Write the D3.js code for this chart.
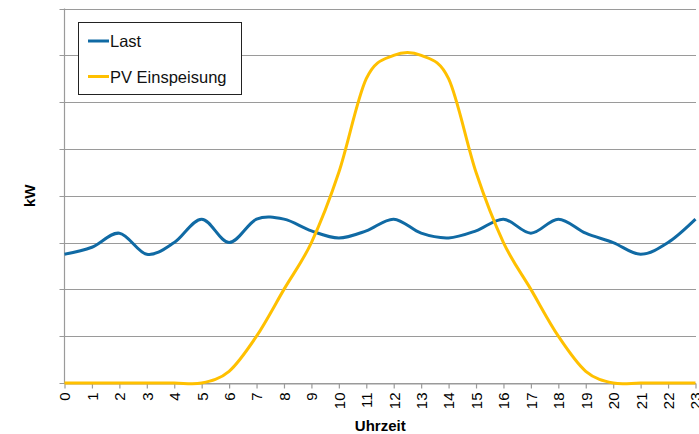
<!DOCTYPE html>
<html>
<head>
<meta charset="utf-8">
<script src="https://cdn.jsdelivr.net/npm/d3@7"></script>
<style>
  html, body { margin: 0; padding: 0; background: #fff; }
  svg { display: block; font-family: "Liberation Sans", Arial, sans-serif; }
</style>
</head>
<body>
<svg id="chart" width="699" height="434"></svg>
<script>
// Hourly profile: load vs. PV feed-in (kW)
const hours = d3.range(0, 24);
const hourLabels = hours.map(String);
const last = [2.75, 2.9, 3.2, 2.75, 3.0, 3.5, 3.0, 3.5, 3.5, 3.25, 3.1, 3.25,
              3.5, 3.2, 3.1, 3.25, 3.5, 3.2, 3.5, 3.2, 3.0, 2.75, 3.0, 3.5];
const pv = [0, 0, 0, 0, 0, 0, 0.25, 1, 2, 3, 4.5, 6.5,
            7, 7, 6.5, 4.5, 3, 2, 1, 0.25, 0, 0, 0, 0];
const seriesNames = ["Last", "PV Einspeisung"];
const seriesColors = ["#106aa4", "#ffc000"];
const yTicks = d3.range(0, 9);

const svg = d3.select("#chart");
const plotLeft = 64.5, plotRight = 696, plotTop = 8.5, plotBottom = 383;

const x = d3.scaleLinear().domain([0, 23]).range([plotLeft, plotRight - 0.5]);
const y = d3.scaleLinear().domain([0, 8]).range([plotBottom, plotTop]);

// horizontal gridlines with small outer ticks
svg.append("g")
  .selectAll("line")
  .data(yTicks)
  .join("line")
  .attr("x1", plotLeft - 5)
  .attr("x2", plotRight)
  .attr("y1", d => Math.round(y(d)) + 0.5)
  .attr("y2", d => Math.round(y(d)) + 0.5)
  .attr("stroke", "#9a9a9a")
  .attr("stroke-width", 1.2);

// vertical axis line
svg.append("line")
  .attr("x1", plotLeft).attr("x2", plotLeft)
  .attr("y1", plotTop).attr("y2", plotBottom)
  .attr("stroke", "#9a9a9a").attr("stroke-width", 1.2);

// x axis ticks and rotated hour labels
const xAxis = d3.axisBottom(x)
  .tickValues(hours)
  .tickFormat((d, i) => hourLabels[i])
  .tickSize(5)
  .tickSizeOuter(0);
const gx = svg.append("g")
  .attr("transform", `translate(0,${Math.round(plotBottom) + 0.5})`)
  .call(xAxis);
gx.select(".domain").attr("stroke", "#9a9a9a").attr("stroke-width", 1.2);
gx.selectAll(".tick line").attr("stroke", "#9a9a9a").attr("stroke-width", 1.2);
gx.selectAll(".tick text")
  .attr("font-family", "Liberation Sans, Arial, sans-serif")
  .attr("font-size", 15)
  .attr("fill", "#000")
  .attr("text-anchor", "end")
  .attr("transform", "rotate(-90)")
  .attr("x", -9)
  .attr("y", 0)
  .attr("dy", "0.36em");

// series lines
const line = d3.line()
  .x((d, i) => x(hours[i]))
  .y(d => y(d))
  .curve(d3.curveCardinal.tension(0));

[last, pv].forEach((vals, k) => {
  svg.append("path")
    .datum(vals)
    .attr("fill", "none")
    .attr("stroke", seriesColors[k])
    .attr("stroke-width", 3)
    .attr("stroke-linejoin", "round")
    .attr("d", line);
});

// axis titles
svg.append("text")
  .attr("transform", `translate(35,${(plotTop + plotBottom) / 2}) rotate(-90)`)
  .attr("text-anchor", "middle")
  .attr("font-weight", "bold")
  .attr("font-size", 15)
  .text("kW");

svg.append("text")
  .attr("x", (plotLeft + plotRight) / 2)
  .attr("y", 431)
  .attr("text-anchor", "middle")
  .attr("font-weight", "bold")
  .attr("font-size", 15)
  .text("Uhrzeit");

// legend
const legend = svg.append("g");
legend.append("rect")
  .attr("x", 78.5).attr("y", 22.5)
  .attr("width", 163).attr("height", 72)
  .attr("fill", "#fff")
  .attr("stroke", "#222").attr("stroke-width", 1);
seriesNames.forEach((name, k) => {
  const cy = 41 + k * 35.5;
  legend.append("line")
    .attr("x1", 88).attr("x2", 109)
    .attr("y1", cy).attr("y2", cy)
    .attr("stroke", seriesColors[k]).attr("stroke-width", 3);
  legend.append("text")
    .attr("x", 110).attr("y", cy + 6)
    .attr("font-size", 16.5)
    .attr("fill", "#111")
    .text(name);
});
</script>
</body>
</html>
